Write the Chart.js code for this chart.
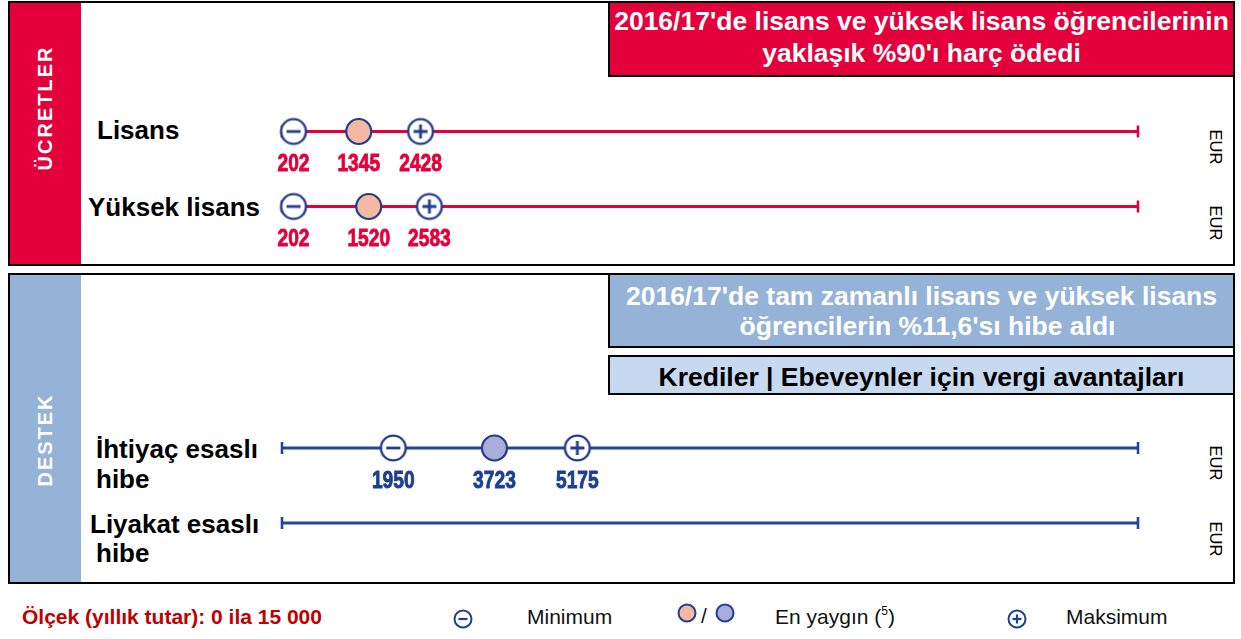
<!DOCTYPE html>
<html lang="tr">
<head>
<meta charset="utf-8">
<script src="https://cdn.jsdelivr.net/npm/chart.js@4/dist/chart.umd.min.js"></script>
<style>
  body { margin: 0; background: #fff; font-family: "Liberation Sans", Arial, sans-serif; }
  #page { position: relative; width: 1241px; height: 639px; overflow: hidden; }
  .panel { position: absolute; left: 8px; width: 1227px; border: 2px solid #000; box-sizing: border-box; }
  .band { position: absolute; left: 0; top: 0; bottom: 0; width: 71px; }
  .box { position: absolute; left: 608px; width: 627px; border: 2px solid #000; box-sizing: border-box; }
  .t { position: absolute; white-space: nowrap; }
  .line { position: absolute; left: 608px; width: 627px; text-align: center; white-space: nowrap;
          font-weight: bold; font-size: 26.5px; line-height: 32px; }
  .lbl { font-weight: bold; font-size: 26px; line-height: 30px; color: #000; }
  .eur { font-size: 16.5px; line-height: 18px; transform: translate(-50%, -50%) rotate(90deg); }
  .vert { color: #fff; font-weight: bold; font-size: 20px; letter-spacing: 2px; line-height: 22px;
          transform: translate(-50%, -50%) rotate(-90deg); }
  .leg { font-size: 21px; line-height: 24px; color: #111; }
  canvas { position: absolute; left: 0; }
</style>
</head>
<body>
<div id="page">
  <!-- ÜCRETLER panel -->
  <div class="panel" style="top:1px;height:265px;"><div class="band" style="background:#E3003B;"></div></div>
  <div class="box" style="top:1px;height:76px;background:#E3003B;"></div>
  <div class="line" style="top:5px;color:#fff;">2016/17'de lisans ve yüksek lisans öğrencilerinin</div>
  <div class="line" style="top:37px;color:#fff;">yaklaşık %90'ı harç ödedi</div>
  <div class="t vert" style="left:45px;top:108px;">ÜCRETLER</div>

  <!-- DESTEK panel -->
  <div class="panel" style="top:273px;height:311px;"><div class="band" style="background:#95B3D7;"></div></div>
  <div class="box" style="top:273px;height:75px;background:#95B3D7;"></div>
  <div class="box" style="top:355px;height:40px;background:#C6D9F1;"></div>
  <div class="line" style="top:281px;color:#fff;line-height:30px;">2016/17'de tam zamanlı lisans ve yüksek lisans</div>
  <div class="line" style="top:311px;color:#fff;line-height:30px;padding-left:12px;box-sizing:border-box;">öğrencilerin %11,6'sı hibe aldı</div>
  <div class="line" style="top:359px;color:#000;line-height:36px;">Krediler | Ebeveynler için vergi avantajları</div>
  <div class="t vert" style="left:45px;top:440px;">DESTEK</div>

  <!-- row labels -->
  <div class="t lbl" style="left:97px;top:115px;">Lisans</div>
  <div class="t lbl" style="left:88px;top:192px;">Yüksek lisans</div>
  <div class="t lbl" style="left:96px;top:434px;">İhtiyaç esaslı</div>
  <div class="t lbl" style="left:96px;top:464px;">hibe</div>
  <div class="t lbl" style="left:90px;top:509px;">Liyakat esaslı</div>
  <div class="t lbl" style="left:96px;top:538px;">hibe</div>

  <div class="t eur" style="left:1216px;top:147px;">EUR</div>
  <div class="t eur" style="left:1216px;top:223px;">EUR</div>
  <div class="t eur" style="left:1216px;top:463px;">EUR</div>
  <div class="t eur" style="left:1216px;top:539px;">EUR</div>

  <canvas id="feesChart" width="1241" height="266" style="top:0;"></canvas>
  <canvas id="supportChart" width="1241" height="312" style="top:272px;"></canvas>

  <!-- footer / legend -->
  <div class="t" style="left:22px;top:605px;font-size:21px;line-height:24px;font-weight:bold;color:#C00000;">Ölçek (yıllık tutar): 0 ila 15 000</div>
  <svg class="t" style="left:452px;top:608px;" width="22" height="22">
    <circle cx="11" cy="11" r="8.5" fill="#fff" stroke="#1F3F94" stroke-width="2"/>
    <line x1="6.5" y1="11" x2="15.5" y2="11" stroke="#1F3F94" stroke-width="2.2"/>
  </svg>
  <div class="t leg" style="left:527px;top:605px;">Minimum</div>
  <svg class="t" style="left:676px;top:602px;" width="22" height="22">
    <circle cx="11" cy="11" r="8.5" fill="#F4B8A3" stroke="#1F3F94" stroke-width="2"/>
  </svg>
  <div class="t leg" style="left:701px;top:604px;">/</div>
  <svg class="t" style="left:714px;top:602px;" width="22" height="22">
    <circle cx="11" cy="11" r="8.5" fill="#A9ADD9" stroke="#1F3F94" stroke-width="2"/>
  </svg>
  <div class="t leg" style="left:775px;top:605px;">En yaygın (<span style="font-size:12px;position:relative;top:-9px;">5</span>)</div>
  <svg class="t" style="left:1006px;top:608px;" width="22" height="22">
    <circle cx="11" cy="11" r="8.5" fill="#fff" stroke="#1F3F94" stroke-width="2"/>
    <line x1="6.5" y1="11" x2="15.5" y2="11" stroke="#1F3F94" stroke-width="2.2"/>
    <line x1="11" y1="6.5" x2="11" y2="15.5" stroke="#1F3F94" stroke-width="2.2"/>
  </svg>
  <div class="t leg" style="left:1066px;top:605px;">Maksimum</div>
</div>

<script>
// rows of the chart
const rowLabels = ["Lisans", "Yüksek lisans", "İhtiyaç esaslı hibe", "Liyakat esaslı hibe"];
// annual amounts in EUR (null = no data)
const minValues = [202, 202, 1950, null];
const commonValues = [1345, 1520, 3723, null];
const maxValues = [2428, 2583, 5175, null];
// scale of the axis
const scaleMin = 0;
const scaleMax = 15000;

const markerStroke = "#233C8C";

function markerImage(kind) {
  var r = 12.4;
  var c = document.createElement("canvas");
  c.width = 30;
  c.height = 30;
  var ctx = c.getContext("2d");
  ctx.beginPath();
  ctx.arc(15, 15, r, 0, Math.PI * 2);
  ctx.fillStyle = "#fff";
  ctx.fill();
  ctx.lineWidth = 2.4;
  ctx.strokeStyle = markerStroke;
  ctx.stroke();
  ctx.lineWidth = 2.8;
  ctx.beginPath();
  ctx.moveTo(15 - 7, 15);
  ctx.lineTo(15 + 7, 15);
  if (kind === "plus") {
    ctx.moveTo(15, 15 - 7);
    ctx.lineTo(15, 15 + 7);
  }
  ctx.stroke();
  return c;
}

const minusImg = markerImage("minus");
const plusImg = markerImage("plus");

// writes the value under each marker (narrow bold digits)
const valueLabels = {
  id: "valueLabels",
  afterDatasetsDraw(chart) {
    var ctx = chart.ctx;
    chart.data.datasets.forEach(function (ds, i) {
      if (!ds.showValues) return;
      var meta = chart.getDatasetMeta(i);
      meta.data.forEach(function (pt, j) {
        ctx.save();
        ctx.font = "bold 24px 'Liberation Sans', Arial, sans-serif";
        ctx.textAlign = "center";
        ctx.textBaseline = "middle";
        ctx.fillStyle = chart.options.labelColor;
        ctx.strokeStyle = chart.options.labelColor;
        ctx.lineWidth = 0.9;
        ctx.translate(pt.x, pt.y + 33);
        ctx.scale(0.8, 1);
        ctx.fillText(String(ds.data[j].x), 0, 0);
        ctx.strokeText(String(ds.data[j].x), 0, 0);
        ctx.restore();
      });
    });
  },
};

function buildChart(canvasId, rows, lineColor, labelColor, commonFill, pad) {
  var labels = rows.map((i) => rowLabels[i]);
  var pick = function (values) {
    return rows
      .filter((i) => values[i] !== null)
      .map((i) => ({ x: values[i], y: rowLabels[i] }));
  };

  var datasets = [
    {
      label: "Minimum",
      data: pick(minValues),
      pointStyle: minusImg,
      pointRadius: 13,
      showValues: true,
      order: 1,
    },
    {
      label: "En yaygın",
      data: pick(commonValues),
      pointStyle: "circle",
      pointRadius: 12.5,
      pointBackgroundColor: commonFill,
      pointBorderColor: markerStroke,
      pointBorderWidth: 2.2,
      showValues: true,
      order: 1,
    },
    {
      label: "Maksimum",
      data: pick(maxValues),
      pointStyle: plusImg,
      pointRadius: 13,
      showValues: true,
      order: 1,
    },
  ];

  rows.forEach(function (i) {
    datasets.push({
      label: rowLabels[i],
      data: [
        { x: scaleMin, y: rowLabels[i] },
        { x: scaleMax, y: rowLabels[i] },
      ],
      showLine: true,
      borderColor: lineColor,
      borderWidth: 2.8,
      pointStyle: "line",
      rotation: 90,
      pointRadius: 6,
      pointBorderColor: lineColor,
      pointBorderWidth: 2.6,
      order: 5,
    });
  });

  return new Chart(document.getElementById(canvasId), {
    type: "scatter",
    data: { labels: labels, datasets: datasets },
    options: {
      responsive: false,
      animation: false,
      events: [],
      devicePixelRatio: 1,
      labelColor: labelColor,
      layout: { padding: pad },
      plugins: {
        legend: { display: false },
        title: { display: false },
        tooltip: { enabled: false },
      },
      elements: { point: { hoverRadius: 0 } },
      datasets: { scatter: { clip: false } },
      scales: {
        x: { type: "linear", min: scaleMin, max: scaleMax, display: false },
        y: { type: "category", labels: labels, offset: true, display: false },
      },
    },
    plugins: [valueLabels],
  });
}

buildChart("feesChart", [0, 1], "#E3003B", "#E3003B", "#F4B8A3",
  { left: 282, right: 103, top: 94, bottom: 22 });
buildChart("supportChart", [2, 3], "#22479A", "#1E3F91", "#A9ADD9",
  { left: 282, right: 103, top: 138.5, bottom: 23.5 });
</script>
</body>
</html>
